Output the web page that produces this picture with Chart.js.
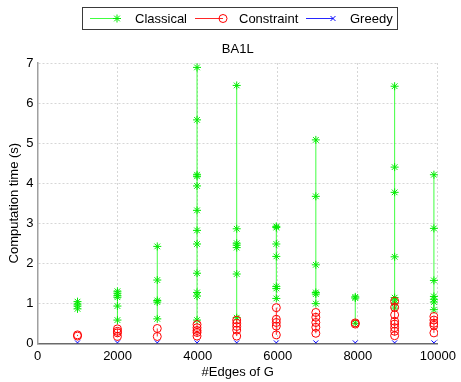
<!DOCTYPE html>
<html>
<head>
<meta charset="utf-8">
<script src="https://cdn.jsdelivr.net/npm/chart.js@4/dist/chart.umd.min.js"></script>
<style>
  html, body { margin: 0; padding: 0; background: #fff; }
  #wrap { width: 461px; height: 382px; }
</style>
</head>
<body>
<div id="wrap"><canvas id="c" width="461" height="382"></canvas></div>
<script>
// Number of edges of each BA graph
const edgeCounts = [999, 1996, 2991, 3984, 4975, 5964, 6951, 7936, 8919, 9900];

// Computation time (s) of each run, one row per graph size
const classicalTimes = [
  [1.04, 0.98, 0.93, 0.86],
  [1.30, 1.25, 1.19, 1.15, 0.93, 0.58],
  [2.42, 1.58, 1.07, 1.03, 0.61],
  [6.89, 5.58, 4.21, 4.17, 3.93, 3.32, 2.82, 2.48, 1.75, 1.27, 1.18, 0.58],
  [6.44, 2.86, 2.50, 2.45, 2.39, 1.73, 0.64],
  [2.92, 2.89, 2.48, 2.17, 1.42, 1.37, 1.12],
  [5.08, 3.67, 1.96, 1.27, 1.23, 0.99],
  [1.16, 1.13, 0.50],
  [6.42, 4.40, 3.77, 2.16, 1.14, 1.08, 1.00, 0.88],
  [4.21, 2.87, 1.57, 1.17, 1.10, 1.03, 0.84]
];
const constraintTimes = [
  [0.21, 0.18],
  [0.36, 0.30, 0.26, 0.17],
  [0.37, 0.17],
  [0.47, 0.39, 0.32, 0.27, 0.18],
  [0.58, 0.50, 0.42, 0.33, 0.18],
  [0.89, 0.60, 0.52, 0.43, 0.21],
  [0.77, 0.65, 0.52, 0.40, 0.25],
  [0.51, 0.48],
  [1.05, 0.90, 0.71, 0.55, 0.48, 0.39, 0.30, 0.19],
  [0.67, 0.58, 0.50, 0.45, 0.26]
];
const greedyTimes = [
  [0.01], [0.01], [0.01], [0.01], [0.01],
  [0.01], [0.01], [0.01], [0.01], [0.01]
];

const seriesNames = ['Classical', 'Constraint', 'Greedy'];
const xTicks = [0, 2000, 4000, 6000, 8000, 10000];
const yTicks = [0, 1, 2, 3, 4, 5, 6, 7];

const FONT = '"Liberation Sans", Arial, sans-serif';

function toPoints(rows) {
  const pts = [];
  rows.forEach((row, i) => {
    row.slice().sort((a, b) => a - b).forEach(v => pts.push({ x: edgeCounts[i], y: v }));
  });
  return pts;
}

// only join runs that share the same graph size
function sameColumn(color) {
  return ctx => (ctx.p0.parsed.x === ctx.p1.parsed.x ? color : 'rgba(0,0,0,0)');
}

const styles = [
  { color: 'rgb(0,235,0)', line: 'rgba(0,255,0,0.75)', point: 'star', radius: 4 },
  { color: 'rgb(255,0,0)', line: 'rgba(255,0,0,0.85)', point: 'circle', radius: 4 },
  { color: 'rgb(0,0,255)', line: 'rgba(0,0,255,0.85)', point: 'crossRot', radius: 3.5 }
];

const datasets = [classicalTimes, constraintTimes, greedyTimes].map((rows, k) => ({
  label: seriesNames[k],
  data: toPoints(rows),
  showLine: true,
  borderWidth: 1,
  borderColor: styles[k].line,
  segment: { borderColor: sameColumn(styles[k].line) },
  pointStyle: styles[k].point,
  pointRadius: styles[k].radius,
  pointBorderColor: styles[k].color,
  pointBackgroundColor: 'rgba(0,0,0,0)',
  pointBorderWidth: 1,
  order: 3 - k
}));

// legend box and title above the axes
const headerPlugin = {
  id: 'header',
  afterDraw(chart) {
    const ctx = chart.ctx;
    const area = chart.chartArea;
    const cx = (area.left + area.right) / 2;
    ctx.save();
    // legend box
    const bx = 82.5, by = 7.5, bw = 315, bh = 22;
    ctx.fillStyle = '#fff';
    ctx.fillRect(bx, by, bw, bh);
    ctx.strokeStyle = '#3a3a3a';
    ctx.lineWidth = 1;
    ctx.strokeRect(bx, by, bw, bh);
    const entries = [
      { x0: 90, x1: 117, tx: 135 },
      { x0: 195, x1: 223, tx: 239 },
      { x0: 306, x1: 333, tx: 350 }
    ];
    const ly = 18.5;
    entries.forEach((e, k) => {
      ctx.strokeStyle = styles[k].line;
      ctx.lineWidth = 1;
      ctx.beginPath();
      ctx.moveTo(e.x0, ly);
      ctx.lineTo(e.x1, ly);
      ctx.stroke();
      ctx.strokeStyle = styles[k].color;
      ctx.fillStyle = 'rgba(0,0,0,0)';
      Chart.helpers.drawPoint(ctx, {
        pointStyle: styles[k].point, radius: styles[k].radius, rotation: 0, borderWidth: 1
      }, e.x1, ly);
      ctx.fillStyle = '#000';
      ctx.font = '13px ' + FONT;
      ctx.textBaseline = 'middle';
      ctx.textAlign = 'left';
      ctx.fillText(seriesNames[k], e.tx, ly + 0.5);
    });
    // title
    ctx.fillStyle = '#000';
    ctx.font = '13px ' + FONT;
    ctx.textAlign = 'center';
    ctx.textBaseline = 'middle';
    ctx.fillText('BA1L', cx, 49);
    ctx.restore();
  }
};

new Chart(document.getElementById('c'), {
  type: 'scatter',
  data: { datasets },
  options: {
    responsive: false,
    animation: false,
    layout: { padding: { top: 63, right: 19, left: 0, bottom: 0 } },
    plugins: { legend: { display: false }, tooltip: { enabled: false } },
    scales: {
      x: {
        type: 'linear',
        min: 0,
        max: 10000,
        afterBuildTicks: s => { s.ticks = xTicks.map(v => ({ value: v })); },
        afterFit: s => { s.height = 38.7; },
        ticks: { color: '#000', font: { family: FONT, size: 13 }, padding: 5, maxRotation: 0,
                 callback: v => String(v) },
        grid: { color: '#d6d6d6', lineWidth: 1, drawTicks: false },
        border: { color: '#6a6a6a', width: 1.5, dash: [2, 2] },
        title: { display: true, text: '#Edges of G', color: '#000',
                 font: { family: FONT, size: 13 }, padding: { top: 2, bottom: 2 } }
      },
      y: {
        type: 'linear',
        min: 0,
        max: 7,
        afterBuildTicks: s => { s.ticks = yTicks.map(v => ({ value: v })); },
        afterFit: s => { s.width = 37.5; },
        ticks: { color: '#000', font: { family: FONT, size: 13 }, padding: 4,
                 callback: v => String(v) },
        grid: { color: '#d6d6d6', lineWidth: 1, drawTicks: false },
        border: { color: '#a0a0a0', width: 1.5, dash: [2, 2] },
        title: { display: true, text: 'Computation time (s)', color: '#000',
                 font: { family: FONT, size: 13 }, padding: { top: 7, bottom: 0 } }
      }
    }
  },
  plugins: [headerPlugin]
});
</script>
</body>
</html>
